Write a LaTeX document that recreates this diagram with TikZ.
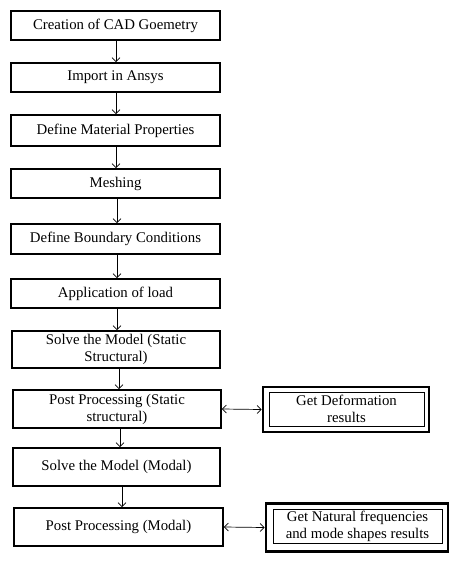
\documentclass[tikz,border=0pt]{standalone}
\usepackage{fontspec}
\setmainfont{Liberation Serif}
\usetikzlibrary{arrows.meta}
\begin{document}
\begin{tikzpicture}[x=1pt,y=-1pt,
  box/.style={draw, line width=1.8pt, align=center, inner sep=0pt, font=\fontsize{14.8}{17}\selectfont},
  dbox/.style={draw, line width=2.8pt, inner sep=0pt},
  ibox/.style={draw, line width=0.8pt, align=center, inner sep=0pt, font=\fontsize{14.8}{17}\selectfont},
  arr/.style={draw, line width=0.7pt, -{Straight Barb[length=4pt,width=8pt]}},
  darr/.style={draw, line width=0.7pt, {Straight Barb[length=4pt,width=8pt]}-{Straight Barb[length=4pt,width=8pt]}}]
\useasboundingbox (0,0) rectangle (450,568);
\node[box, minimum width=209pt, minimum height=29pt] (b1) at (115.5,25.5) {Creation of CAD Goemetry};
\node[box, minimum width=209pt, minimum height=29pt] (b2) at (115.5,77.5) {Import in Ansys};
\node[box, minimum width=209pt, minimum height=31pt] (b3) at (115.5,130.5) {Define Material Properties};
\node[box, minimum width=209pt, minimum height=29pt] (b4) at (115.5,183.5) {Meshing};
\node[box, minimum width=209pt, minimum height=30pt] (b5) at (115.5,239) {Define Boundary Conditions};
\node[box, minimum width=209pt, minimum height=29pt] (b6) at (115.5,293.5) {Application of load};
\node[box, minimum width=208pt, minimum height=37pt] (b7) at (116,349.5) {Solve the Model (Static\\Structural)};
\node[box, minimum width=208pt, minimum height=38pt] (b8) at (117,409) {Post Processing (Static\\structural)};
\node[box, minimum width=207pt, minimum height=38pt] (b9) at (116.5,467) {Solve the Model (Modal)};
\node[box, minimum width=209pt, minimum height=38pt] (b10) at (118.5,527) {Post Processing (Modal)};
\node[dbox, minimum width=166pt, minimum height=45pt] (r1) at (346,409.5) {};
\node[ibox, minimum width=155pt, minimum height=34pt] (r1i) at (346.5,409) {Get Deformation\\results};
\node[dbox, minimum width=182pt, minimum height=48pt] (r2) at (357,527.5) {};
\node[ibox, minimum width=169pt, minimum height=34pt] (r2i) at (357.5,526) {Get Natural frequencies\\and mode shapes results};
\draw[arr] (b1.south -| 116,0) -- (b2.north -| 116,0);
\draw[arr] (b2.south -| 116,0) -- (b3.north -| 116,0);
\draw[arr] (b3.south -| 116,0) -- (b4.north -| 116,0);
\draw[arr] (b4.south -| 117,0) -- (b5.north -| 117,0);
\draw[arr] (b5.south -| 117,0) -- (b6.north -| 117,0);
\draw[arr] (b6.south -| 117,0) -- (b7.north -| 117,0);
\draw[arr] (b7.south -| 119,0) -- (b8.north -| 119,0);
\draw[arr] (b8.south -| 120,0) -- (b9.north -| 120,0);
\draw[arr] (b9.south -| 122,0) -- (b10.north -| 122,0);
\draw[darr] (b8.east) -- (r1.west);
\draw[darr] (b10.east) -- (r2.west);
\end{tikzpicture}
\end{document}
